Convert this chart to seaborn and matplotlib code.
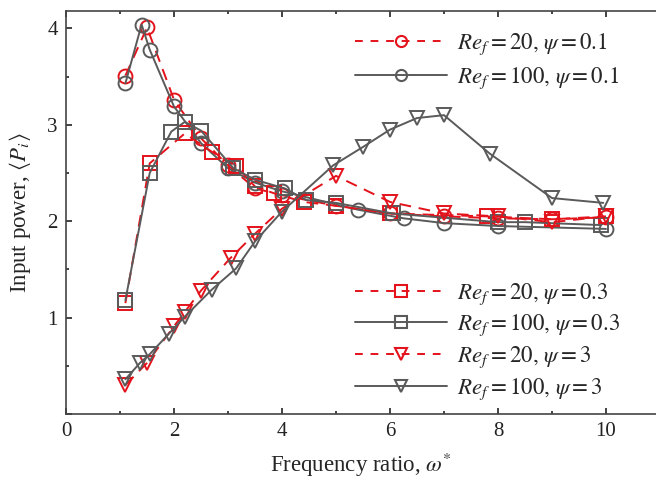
import matplotlib
matplotlib.use("Agg")
import matplotlib.pyplot as plt
import seaborn as sns
import pandas as pd
from matplotlib.ticker import MultipleLocator

# Input power vs. frequency ratio for two Reynolds numbers and three psi values
x_re20_psi01 = [1.1, 1.5, 2.0, 2.5, 3.0, 3.5, 4.0, 5.0, 6.0, 7.0, 8.0, 9.0, 10.0]
y_re20_psi01 = [3.51, 4.01, 3.26, 2.86, 2.58, 2.34, 2.27, 2.16, 2.08, 2.05, 2.03, 2.02, 2.04]

x_re100_psi01 = [1.1, 1.4, 1.55, 2.0, 2.5, 3.0, 3.5, 4.0, 5.4, 6.25, 7.0, 8.0, 10.0]
y_re100_psi01 = [3.43, 4.04, 3.78, 3.19, 2.81, 2.55, 2.40, 2.31, 2.12, 2.03, 1.98, 1.95, 1.92]

x_re20_psi03 = [1.1, 1.55, 2.2, 2.7, 3.15, 3.5, 3.85, 4.4, 5.0, 6.0, 7.8, 9.0, 10.0]
y_re20_psi03 = [1.15, 2.60, 2.91, 2.72, 2.57, 2.36, 2.29, 2.20, 2.16, 2.08, 2.05, 2.02, 2.05]

x_re100_psi03 = [1.1, 1.55, 1.95, 2.2, 2.5, 3.1, 3.5, 4.05, 4.45, 5.0, 6.05, 8.0, 8.5, 9.9]
y_re100_psi03 = [1.18, 2.50, 2.93, 3.03, 2.94, 2.55, 2.43, 2.34, 2.22, 2.19, 2.08, 1.99, 1.99, 1.96]

x_re20_psi3 = [1.1, 1.5, 2.0, 2.2, 2.5, 3.05, 3.5, 4.0, 5.0, 6.0, 7.0, 8.0, 9.0, 10.0]
y_re20_psi3 = [0.30, 0.53, 0.91, 1.06, 1.28, 1.62, 1.87, 2.13, 2.47, 2.20, 2.08, 2.05, 1.99, 2.05]

x_re100_psi3 = [1.1, 1.37, 1.55, 1.9, 2.2, 2.7, 3.15, 3.5, 4.0, 4.95, 5.5, 6.0, 6.5, 7.0, 7.85, 9.0, 9.95]
y_re100_psi3 = [0.36, 0.53, 0.62, 0.83, 1.01, 1.29, 1.51, 1.79, 2.10, 2.58, 2.77, 2.95, 3.07, 3.10, 2.70, 2.24, 2.19]

labels = [
    r"$Re_f = 20,\, \psi = 0.1$",
    r"$Re_f = 100,\, \psi = 0.1$",
    r"$Re_f = 20,\, \psi = 0.3$",
    r"$Re_f = 100,\, \psi = 0.3$",
    r"$Re_f = 20,\, \psi = 3$",
    r"$Re_f = 100,\, \psi = 3$",
]

RED = "#e3121b"
GRAY = "#5a5a5a"

sns.set_theme(style="ticks")
plt.rcParams["font.family"] = ["Liberation Serif", "DejaVu Serif"]
plt.rcParams["mathtext.fontset"] = "stix"

fig = plt.figure(figsize=(6.56, 4.79), dpi=100)
ax = fig.add_axes([66 / 656, 65 / 479, 590 / 656, 402.5 / 479])

series = [
    (x_re20_psi01, y_re20_psi01, RED, "--", "o"),
    (x_re100_psi01, y_re100_psi01, GRAY, "-", "o"),
    (x_re20_psi03, y_re20_psi03, RED, "--", "s"),
    (x_re100_psi03, y_re100_psi03, GRAY, "-", "s"),
    (x_re20_psi3, y_re20_psi3, RED, "--", "v"),
    (x_re100_psi3, y_re100_psi3, GRAY, "-", "v"),
]

handles = []
for (xs, ys, col, ls, mk), lab in zip(series, labels):
    df = pd.DataFrame({"omega": xs, "power": ys})
    sns.lineplot(data=df, x="omega", y="power", ax=ax, sort=False,
                 color=col, linestyle=ls, linewidth=1.4,
                 marker=mk, markersize=10, markerfacecolor="none",
                 markeredgecolor=col, markeredgewidth=1.4, label=None)
    ln = ax.lines[-1]
    if ls == "--":
        ln.set_dashes([6, 4])
    h = matplotlib.lines.Line2D([], [], color=col, linestyle=ls, linewidth=1.4,
                                marker=mk, markersize=8, markerfacecolor="none",
                                markeredgecolor=col, markeredgewidth=1.5)
    if ls == "--":
        h.set_dashes([4, 4])
    handles.append(h)

ax.set_xlim(0, 590 / 54)
ax.set_ylim(0, 402.5 / 96.4)
ax.xaxis.set_minor_locator(MultipleLocator(1))
ax.yaxis.set_minor_locator(MultipleLocator(0.5))
ax.set_xticks([0, 2, 4, 6, 8, 10])
ax.set_xticklabels(["0", "2", "4", "6", "8", "10"])
ax.set_yticks([0, 1, 2, 3, 4])
ax.set_yticklabels(["", "1", "2", "3", "4"])

ax.tick_params(which="both", direction="in", top=True, right=False,
               labelsize=15, colors="#222222", width=1.2)
ax.tick_params(which="major", length=4.5, pad=6)
ax.tick_params(which="minor", length=2.5)

for side in ["left", "bottom", "top"]:
    ax.spines[side].set_color("#444444")
    ax.spines[side].set_linewidth(1.2)
ax.spines["right"].set_visible(False)

ax.set_xlabel(r"Frequency ratio, $\omega^{*}$", fontsize=16.5, labelpad=7)
ax.set_ylabel(r"Input power, $\langle P_i \rangle$", fontsize=16.5, labelpad=10)

leg1 = ax.legend(handles[:2], labels[:2], loc="upper left",
                 bbox_to_anchor=(0.49, 0.95), frameon=False, fontsize=16.5,
                 handlelength=4.0, handletextpad=0.45, labelspacing=0.35,
                 borderpad=0, borderaxespad=0)
ax.add_artist(leg1)
ax.legend(handles[2:], labels[2:], loc="upper left",
          bbox_to_anchor=(0.49, 0.33), frameon=False, fontsize=16.5,
          handlelength=4.0, handletextpad=0.45, labelspacing=0.27,
          borderpad=0, borderaxespad=0)

fig.savefig("out.png", dpi=100)
